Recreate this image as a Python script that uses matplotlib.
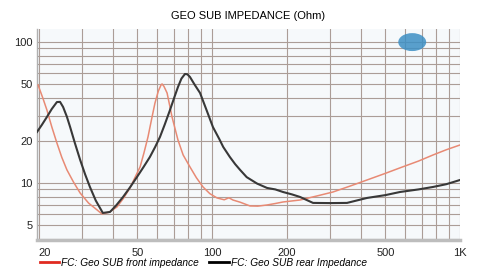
import matplotlib
matplotlib.use('Agg')
import matplotlib.pyplot as plt
from matplotlib.lines import Line2D
from matplotlib.patches import Ellipse
from matplotlib.ticker import FixedLocator, LogLocator, NullFormatter

# front impedance (red)
front_f = [19.9, 20.8, 21.6, 22.6, 23.7, 24.8, 26.0, 27.6, 29.4, 31.8, 34.4, 36.0, 38.5,
           41.4, 44.0, 46.7, 49.0, 51.3, 53.2, 55.2, 57.0, 58.9, 60.8, 62.3, 62.9, 64.0,
           65.9, 67.4, 69.0, 72.9, 76.5, 81.5, 86.5, 92.0, 98.0, 104.8, 112.0, 117.0,
           121.5, 130.0, 142.3, 153.0, 166.7, 180.0, 193.3, 226.3, 265.1, 307.5, 360.0,
           421.7, 500.0, 572.8, 680.0, 778.4, 880.0, 1000]
front_z = [49.5, 40.0, 32.9, 25.0, 19.2, 15.2, 12.4, 10.2, 8.49, 7.2, 6.44, 6.03, 6.2,
           6.76, 7.8, 9.22, 11.0, 13.0, 16.4, 21.2, 28.0, 36.9, 45.0, 49.5, 50.4, 48.5,
           43.5, 36.0, 29.4, 20.2, 15.8, 13.0, 10.9, 9.37, 8.4, 7.83, 7.6, 7.85,
           7.57, 7.3, 6.87, 6.85, 6.98, 7.15, 7.33, 7.57, 8.09, 8.63, 9.5,
           10.5, 11.7, 12.8, 14.3, 15.8, 17.2, 18.6]

# rear impedance (black)
rear_f = [19.7, 20.6, 21.6, 22.6, 23.7, 24.4, 25.1, 26.0, 26.8, 28.0, 29.4, 30.8, 32.2,
          34.0, 36.3, 38.8, 41.0, 43.8, 46.7, 49.8, 53.0, 56.2, 59.0, 61.7, 64.5, 67.7,
          70.5, 72.9, 75.3, 77.8, 79.6, 81.5, 85.0, 89.5, 95.0, 100.9, 107.0, 111.0,
          118.0, 124.0, 129.7, 138.0, 152.0, 166.7, 180.0, 193.3, 210.0, 226.3, 255.5,
          300.0, 350.2, 421.7, 500.0, 572.8, 680.0, 778.4, 880.0, 1000]
rear_z = [23.0, 25.8, 29.4, 33.5, 37.5, 37.6, 34.6, 29.5, 24.9, 19.2, 14.6, 11.5, 9.37,
          7.5, 6.13, 6.23, 6.9, 7.96, 9.3, 11.0, 13.0, 15.3, 18.0, 21.2, 26.0, 32.9,
          40.5, 47.9, 55.0, 59.3, 59.0, 56.5, 50.0, 43.5, 33.0, 24.9, 20.5, 18.0,
          15.3, 13.6, 12.4, 11.0, 9.9, 9.22, 9.0, 8.63, 8.3, 7.96, 7.22,
          7.2, 7.22, 7.83, 8.2, 8.63, 9.0, 9.37, 9.8, 10.5]

x_ticks = [20, 50, 100, 200, 500, 1000]
x_labels = ['20', '50', '100', '200', '500', '1K']
y_ticks = [5, 10, 20, 50, 100]
y_labels = ['5', '10', '20', '50', '100']

plt.rcParams['font.family'] = ['Liberation Sans', 'DejaVu Sans']

fig = plt.figure(figsize=(4.78, 2.74), dpi=100)
ax = fig.add_axes([0.0774, 0.1241, 0.885, 0.770])
ax.set_facecolor('#f6f9fb')

ax.set_xscale('log'); ax.set_yscale('log')
ax.set_xlim(19.7, 1000); ax.set_ylim(3.94, 123.6)

ax.xaxis.set_major_locator(FixedLocator(x_ticks))
ax.set_xticklabels(x_labels)
ax.xaxis.set_minor_locator(LogLocator(base=10, subs=range(2, 10)))
ax.xaxis.set_minor_formatter(NullFormatter())
ax.yaxis.set_major_locator(FixedLocator(y_ticks))
ax.set_yticklabels(y_labels)
ax.yaxis.set_minor_locator(LogLocator(base=10, subs=range(2, 10)))
ax.yaxis.set_minor_formatter(NullFormatter())
ax.get_xticklabels()[0].set_horizontalalignment('left')

ax.grid(True, which='both', color='#ab9d97', lw=0.8)
ax.tick_params(which='both', length=0, labelsize=8, colors='#222222')
ax.tick_params(axis='x', pad=6)
ax.tick_params(axis='y', pad=3)
for s in ['top', 'right']:
    ax.spines[s].set_visible(False)
ax.spines['left'].set_color('#b0b0b0'); ax.spines['left'].set_linewidth(1.0)
ax.spines['bottom'].set_color('#bdbdbd'); ax.spines['bottom'].set_linewidth(2.5)

ax.plot(front_f, front_z, color='#e88a74', lw=1.1, zorder=3)
ax.plot(rear_f, rear_z, color='#383838', lw=1.5, zorder=4)

# logo blob
ax.add_patch(Ellipse((0.887, 0.938), 0.066, 0.085, transform=ax.transAxes,
                     color='#3d8fc4', alpha=0.85, zorder=5, lw=0))

fig.text(0.518, 0.94, 'GEO SUB IMPEDANCE (Ohm)', ha='center', va='center', fontsize=8)

handles = [Line2D([], [], color='#e02a20', lw=2), Line2D([], [], color='black', lw=2)]
fig.legend(handles, ['FC: Geo SUB front impedance', 'FC: Geo SUB rear Impedance'],
           loc='center left', bbox_to_anchor=(0.065, 0.04), ncol=2, frameon=False,
           handlelength=1.9, handletextpad=0.2, columnspacing=1.0,
           prop={'family': ['Liberation Sans', 'DejaVu Sans'], 'style': 'italic', 'size': 7.3})

fig.savefig('out.png', dpi=100)
